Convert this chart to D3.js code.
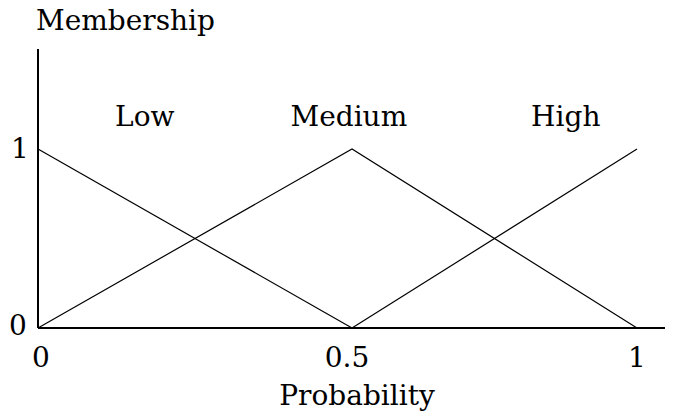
<!DOCTYPE html>
<html>
<head>
<meta charset="utf-8">
<script src="https://cdn.jsdelivr.net/npm/d3@7"></script>
<style>
  body { margin: 0; background: #fff; }
  text { font-family: "DejaVu Serif", serif; fill: #000; }
</style>
</head>
<body>
<div id="chart"></div>
<script>
// Données : fonctions d'appartenance (points des segments)
const lowPoints = [[0, 1], [0.5, 0]];
const mediumPoints = [[0, 0], [0.5, 1], [1, 0]];
const highPoints = [[0.5, 0], [1, 1]];
const seriesNames = ["Low", "Medium", "High"];
const labelX = [0.17, 0.495, 0.875];
const labelY = 1.13;
const xTicks = [0, 0.5, 1];
const xTickLabels = ["0", "0.5", "1"];
const yTicks = [0, 1];
const yTickLabels = ["0", "1"];

//---------------------------------------------------------------------------------------

const width = 674;
const height = 415;
const fontSize = 28;

const svg = d3.select("#chart")
  .append("svg")
  .attr("width", width)
  .attr("height", height);

// échelles (le dessin d'origine n'est pas tout à fait régulier)
const scaleX = d3.scaleLinear()
  .domain([0, 0.5, 1])
  .range([38, 352, 637]);

const scaleY = d3.scaleLinear()
  .domain([0, 1])
  .range([328, 149]);

//---------------------------------------------------------------------------------------

// Axes
svg.append("line")
  .attr("x1", scaleX(0)).attr("x2", 665)
  .attr("y1", scaleY(0)).attr("y2", scaleY(0))
  .attr("stroke", "#000").attr("stroke-width", 2);

svg.append("line")
  .attr("x1", scaleX(0)).attr("x2", scaleX(0))
  .attr("y1", scaleY(0)).attr("y2", 49)
  .attr("stroke", "#000").attr("stroke-width", 2);

// labels de l'axe X (petit décalage pour coller à l'original)
const xShift = [3, -5, 0];
svg.selectAll(".xtick")
  .data(xTicks)
  .join("text")
  .attr("class", "xtick")
  .attr("x", (d, i) => scaleX(d) + xShift[i])
  .attr("y", scaleY(0) + 39)
  .attr("text-anchor", "middle")
  .attr("font-size", fontSize)
  .text((d, i) => xTickLabels[i]);

// labels de l'axe Y
svg.selectAll(".ytick")
  .data(yTicks)
  .join("text")
  .attr("class", "ytick")
  .attr("x", d => d === 1 ? 20 : 18)
  .attr("y", d => scaleY(d) + (d === 1 ? 9 : 7))
  .attr("text-anchor", "middle")
  .attr("font-size", fontSize)
  .text((d, i) => yTickLabels[i]);

// titres des axes
svg.append("text")
  .attr("x", 36)
  .attr("y", 30)
  .attr("font-size", fontSize)
  .text("Membership");

svg.append("text")
  .attr("x", 357)
  .attr("y", 405)
  .attr("text-anchor", "middle")
  .attr("font-size", fontSize)
  .text("Probability");

//---------------------------------------------------------------------------------------

// Lignes
const line = d3.line()
  .x(d => scaleX(d[0]))
  .y(d => scaleY(d[1]));

svg.selectAll(".serie")
  .data([lowPoints, mediumPoints, highPoints])
  .join("path")
  .attr("class", "serie")
  .attr("d", line)
  .attr("fill", "none")
  .attr("stroke", "#000")
  .attr("stroke-width", 1.2);

// noms des séries
svg.selectAll(".lbl")
  .data(seriesNames)
  .join("text")
  .attr("class", "lbl")
  .attr("x", (d, i) => scaleX(labelX[i]))
  .attr("y", scaleY(labelY))
  .attr("text-anchor", "middle")
  .attr("font-size", fontSize)
  .text(d => d);
</script>
</body>
</html>
